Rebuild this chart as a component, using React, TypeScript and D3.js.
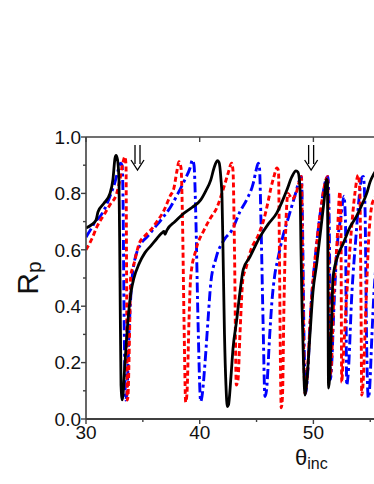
import React from "react";
import * as d3 from "d3";

// Angle of incidence (deg) and reflectance Rp
const blackTheta = [30.0,30.53,30.88,31.06,31.58,32.11,32.37,32.55,32.64,32.77,32.9,32.99,33.08,33.19,33.43,33.69,33.96,34.22,34.66,35.19,35.72,36.24,36.68,36.86,36.95,37.12,37.83,38.62,39.32,40.09,40.55,40.97,41.26,41.55,41.7,41.87,41.96,42.05,42.18,42.31,42.43,42.53,42.75,42.93,43.25,43.54,43.83,44.42,45.3,46.01,46.77,47.24,47.65,48.12,48.47,48.65,48.82,48.91,49.0,49.13,49.26,49.39,49.7,49.96,50.29,50.67,50.93,51.17,51.24,51.28,51.33,51.42,51.61,51.72,52.16,52.6,53.22,53.81,54.27,54.69,54.98,55.33,55.86];
const blackRp = [0.677,0.69,0.705,0.735,0.765,0.8,0.85,0.925,0.935,0.92,0.85,0.5,0.12,0.068,0.2,0.35,0.45,0.5,0.55,0.59,0.615,0.64,0.66,0.665,0.655,0.67,0.7,0.73,0.75,0.777,0.81,0.847,0.89,0.916,0.91,0.85,0.79,0.6,0.3,0.12,0.044,0.05,0.15,0.25,0.35,0.45,0.53,0.575,0.646,0.69,0.73,0.77,0.81,0.86,0.88,0.875,0.82,0.6,0.4,0.2,0.085,0.12,0.3,0.45,0.55,0.68,0.77,0.85,0.84,0.5,0.11,0.14,0.35,0.5,0.58,0.62,0.68,0.72,0.76,0.8,0.84,0.87,0.9];

const blueTheta = [30.0,30.53,30.88,31.06,31.58,32.11,32.55,32.81,33.05,33.17,33.25,33.34,33.49,33.61,33.78,33.96,34.22,34.81,35.36,36.07,36.68,37.45,38.09,38.71,39.15,39.35,39.5,39.67,39.85,40.09,40.2,40.47,40.73,40.97,41.43,42.14,42.84,43.54,44.16,44.71,44.95,45.15,45.26,45.39,45.57,45.74,45.87,46.16,46.36,46.6,46.89,47.33,47.77,48.36,48.8,48.95,49.04,49.17,49.31,49.44,49.79,50.23,50.67,51.11,51.28,51.42,51.5,51.59,51.81,52.07,52.43,52.69,52.82,52.93,53.04,53.39,53.75,54.01,54.25,54.39,54.54,54.67,54.83,54.93,55.15,55.33,55.68];
const blueRp = [0.645,0.68,0.705,0.71,0.74,0.79,0.84,0.88,0.907,0.9,0.8,0.4,0.067,0.1,0.3,0.45,0.55,0.62,0.645,0.68,0.71,0.753,0.8,0.85,0.89,0.918,0.9,0.7,0.35,0.062,0.08,0.2,0.35,0.48,0.57,0.635,0.67,0.735,0.78,0.836,0.88,0.907,0.89,0.7,0.35,0.08,0.1,0.3,0.42,0.51,0.57,0.65,0.71,0.79,0.85,0.86,0.7,0.3,0.09,0.13,0.4,0.6,0.75,0.85,0.86,0.6,0.14,0.18,0.4,0.6,0.72,0.79,0.7,0.12,0.15,0.45,0.65,0.78,0.855,0.86,0.75,0.3,0.075,0.1,0.3,0.45,0.6];

const redTheta = [30.0,30.53,30.94,31.67,32.11,32.7,32.99,33.25,33.43,33.52,33.56,33.63,33.69,33.83,33.93,34.22,34.66,35.19,35.69,36.24,36.86,37.39,37.74,38.0,38.18,38.36,38.49,38.62,38.77,38.88,39.06,39.21,39.67,40.38,40.91,41.55,41.87,42.14,42.49,42.81,42.93,43.06,43.22,43.37,43.54,43.81,44.07,44.51,45.13,45.66,46.01,46.27,46.53,46.79,46.93,47.01,47.1,47.17,47.28,47.41,47.59,47.77,48.12,48.47,48.82,48.95,49.04,49.17,49.26,49.39,49.79,50.23,50.67,51.11,51.24,51.37,51.46,51.59,51.81,52.07,52.33,52.42,52.49,52.6,52.95,53.3,53.65,53.94,54.09,54.19,54.25,54.36,54.62,54.88,55.15,55.33,55.68];
const redRp = [0.6,0.64,0.68,0.73,0.76,0.8,0.85,0.91,0.93,0.9,0.6,0.067,0.08,0.3,0.505,0.55,0.62,0.65,0.67,0.7,0.74,0.79,0.82,0.88,0.912,0.89,0.7,0.35,0.06,0.09,0.35,0.505,0.6,0.67,0.71,0.753,0.79,0.824,0.87,0.907,0.88,0.6,0.12,0.14,0.3,0.5,0.535,0.6,0.65,0.71,0.77,0.82,0.86,0.89,0.88,0.6,0.2,0.04,0.08,0.4,0.7,0.8,0.78,0.8,0.85,0.86,0.6,0.2,0.09,0.12,0.4,0.6,0.75,0.85,0.86,0.5,0.15,0.2,0.45,0.62,0.806,0.7,0.13,0.2,0.45,0.65,0.8,0.865,0.8,0.4,0.085,0.12,0.4,0.65,0.76,0.78,0.8];

const xMajor = [30, 40, 50];
const xMinor = [35, 45, 55];
const yMajor = [0, 0.2, 0.4, 0.6, 0.8, 1.0];
const yMinor = [0.1, 0.3, 0.5, 0.7, 0.9];
const arrowTheta = [34.53, 49.8];

export default function App() {
  const left = 86, right = 374, top = 137, bottom = 419;
  const x = d3.scaleLinear().domain([30, 55.33]).range([left, right]);
  const y = d3.scaleLinear().domain([0, 1]).range([bottom, top]);
  const line = d3.line<number>()
    .curve(d3.curveMonotoneX);
  const mk = (xs: number[], ys: number[]) =>
    line.x((_, i) => x(xs[i])).y((_, i) => y(ys[i]))(xs);
  const series = [
    { d: mk(redTheta, redRp), color: "#ff0000", dash: "5,3", w: 2.9 },
    { d: mk(blueTheta, blueRp), color: "#0000ff", dash: "10,3.5,3,3.5", w: 2.9 },
    { d: mk(blackTheta, blackRp), color: "#000000", dash: undefined, w: 2.8 },
  ];
  const axisColor = "#404040";
  const font = "'Liberation Sans', Arial, Helvetica, sans-serif";
  return (
    <svg width={374} height={484} style={{ position: "absolute", left: 0, top: 0, background: "#fff" }} fontFamily={font}>
      <defs>
        <clipPath id="plot">
          <rect x={left} y={top - 5} width={right - left} height={bottom - top + 10} />
        </clipPath>
      </defs>
      <g clipPath="url(#plot)">
        {[series[1], series[0], series[2]].map((s, i) => (
          <path key={i} d={s.d || ""} fill="none" stroke={s.color} strokeWidth={s.w}
            strokeDasharray={s.dash} strokeLinejoin="round" />
        ))}
      </g>
      {/* frame */}
      <line x1={left} x2={right} y1={top} y2={top} stroke={axisColor} strokeWidth={1.6} />
      <line x1={left} x2={left} y1={top} y2={bottom} stroke={axisColor} strokeWidth={1.6} />
      <line x1={left} x2={right} y1={bottom} y2={bottom} stroke={axisColor} strokeWidth={1.8} />
      {/* y ticks */}
      {yMajor.map((v) => (
        <g key={"ym" + v}>
          <line x1={left - 5} x2={left} y1={y(v)} y2={y(v)} stroke={axisColor} strokeWidth={1.4} />
          <text x={left - 5} y={y(v) + 6.8} textAnchor="end" fontSize={19} fill="#111">{v.toFixed(1)}</text>
        </g>
      ))}
      {yMinor.map((v) => (
        <line key={"yn" + v} x1={left - 3} x2={left} y1={y(v)} y2={y(v)} stroke={axisColor} strokeWidth={1.4} />
      ))}
      {/* x ticks */}
      {xMajor.map((v) => (
        <g key={"xm" + v}>
          <line x1={x(v)} x2={x(v)} y1={bottom} y2={bottom + 5} stroke={axisColor} strokeWidth={1.4} />
          <line x1={x(v)} x2={x(v)} y1={top} y2={top + 5} stroke={axisColor} strokeWidth={1.4} />
          <text x={x(v)} y={bottom + 20} textAnchor="middle" fontSize={19} fill="#111">{v}</text>
        </g>
      ))}
      {xMinor.map((v) => (
        <line key={"xn" + v} x1={x(v)} x2={x(v)} y1={bottom} y2={bottom + 3} stroke={axisColor} strokeWidth={1.4} />
      ))}
      {/* arrows */}
      {arrowTheta.map((t, i) => {
        const cx = x(t);
        return (
          <path key={"a" + i}
            d={`M${cx - 2.5},145 V164 M${cx + 2.5},145 V164 M${cx - 6.5},160 L${cx},170 L${cx + 6.5},160`}
            fill="none" stroke="#000" strokeWidth={1.3} />
        );
      })}
      {/* axis titles */}
      <text transform="translate(38,278) rotate(-90)" textAnchor="middle" fontSize={30} fill="#111">
        R<tspan fontSize={21} dy={3}>p</tspan>
      </text>
      <text x={295} y={465} fontSize={22} fill="#111">
        θ<tspan fontSize={16} dy={4}>inc</tspan>
      </text>
    </svg>
  );
}
